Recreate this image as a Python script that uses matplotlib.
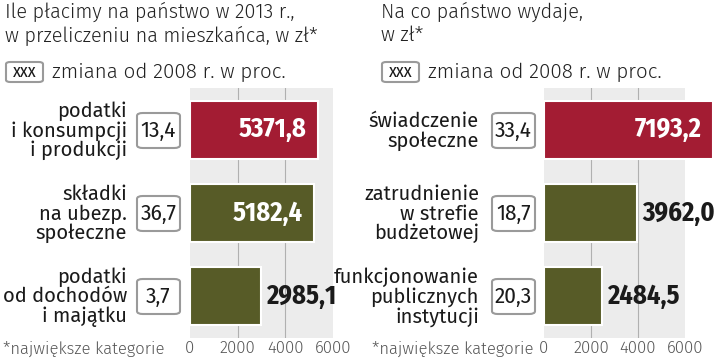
import matplotlib
matplotlib.use('Agg')
import matplotlib.pyplot as plt
from matplotlib.patches import FancyBboxPatch

# data
left_title = 'Ile płacimy na państwo w 2013 r.,\nw przeliczeniu na mieszkańca, w zł*'
left_cats = ['podatki\ni konsumpcji\ni produkcji', 'składki\nna ubezp.\nspołeczne', 'podatki\nod dochodów\ni majątku']
left_vals = [5371.8, 5182.4, 2985.1]
left_change = ['13,4', '36,7', '3,7']

right_title = 'Na co państwo wydaje,\nw zł*'
right_cats = ['świadczenie\nspołeczne', 'zatrudnienie\nw strefie\nbudżetowej', 'funkcjonowanie\npublicznych\ninstytucji']
right_vals = [7193.2, 3962.0, 2484.5]
right_change = ['33,4', '18,7', '20,3']

ticks = [0, 2000, 4000, 6000]
tick_labels = ['0', '2000', '4000', '6000']

RED = '#a31c33'
OLIVE = '#575b27'
BG = '#ececec'
COND = ['Fira Sans Condensed', 'DejaVu Sans']
REG = ['Fira Sans', 'DejaVu Sans']

W, H = 720, 360
fig = plt.figure(figsize=(7.2, 3.6), dpi=100)
fig.patch.set_facecolor('white')


def fx(x):
    return x / W


def fy(y):
    return 1 - y / H


def panel(x0, x1, label_right, box_x, title, cats, vals, changes, title_x):
    ax = fig.add_axes([fx(x0), fy(338), fx(x1 - x0), (338 - 88) / H])
    ax.set_facecolor(BG)
    for s in ax.spines.values():
        s.set_visible(False)
    ax.set_xlim(0, 6000)
    ax.set_ylim(2.5, -0.5)
    for g in [2000, 4000]:
        ax.axvline(g, color='#b0b0b0', lw=0.8, zorder=1)
    ax.set_xticks(ticks)
    ax.set_xticklabels(tick_labels, family=REG, fontweight=300, fontsize=12, color='#555555')
    ax.tick_params(axis='x', length=0, pad=2)
    ax.set_yticks([])

    ypos = range(len(vals))
    colors = [RED, OLIVE, OLIVE]
    # shadow then bar
    ax.barh(ypos, vals, height=0.72, left=0, color='#bdbdbd', zorder=2, clip_on=False)
    ax.barh(ypos, vals, height=0.70, color=colors, edgecolor='white', lw=1.5,
            zorder=3, clip_on=False)

    x_per_px = 6000 / (x1 - x0)
    for i, v in enumerate(vals):
        txt = f'{v:.1f}'.replace('.', ',')
        if v > 4500:
            ax.text(v - 11 * x_per_px, i, txt, ha='right', va='center', color='white',
                    family=COND, fontweight='bold', fontsize=19, zorder=4, clip_on=False)
        else:
            ax.text(v + 5 * x_per_px, i, txt, ha='left', va='center', color='#1a1a1a',
                    family=COND, fontweight='bold', fontsize=19, zorder=4, clip_on=False)

    centers = [130, 213, 296]
    for cy, cat, ch in zip(centers, cats, changes):
        fig.text(fx(label_right), fy(cy + 1), cat, ha='right', va='center', family=REG,
                 fontsize=14.5, color='#1a1a1a', linespacing=1.0)
        box = FancyBboxPatch((fx(box_x), fy(cy + 18)), fx(43), 35 / H,
                             boxstyle='round,pad=0,rounding_size=0.008',
                             transform=fig.transFigure, fc='white', ec='#9a9a9a', lw=1.5)
        fig.patches.append(box)
        fig.text(fx(box_x + 21.5), fy(cy + 1), ch, ha='center', va='center', family=COND,
                 fontsize=16.5, color='#1a1a1a')

    fig.text(fx(title_x), fy(2), title, ha='left', va='top', family=REG, fontweight=300,
             fontsize=14.3, color='#222222', linespacing=1.2)
    # legend box
    lb = FancyBboxPatch((fx(title_x + 1), fy(82)), fx(37), 20 / H,
                        boxstyle='round,pad=0,rounding_size=0.006',
                        transform=fig.transFigure, fc='white', ec='#9a9a9a', lw=1.5)
    fig.patches.append(lb)
    fig.text(fx(title_x + 19.5), fy(72), 'xxx', ha='center', va='center', family=COND,
             fontsize=13, color='#1a1a1a')
    fig.text(fx(title_x + 47), fy(72), 'zmiana od 2008 r. w proc.', ha='left', va='center',
             family=REG, fontweight=300, fontsize=14.8, color='#222222')
    return ax


panel(190, 333, 127, 137, left_title, left_cats, left_vals, left_change, 5)
panel(544, 685, 479, 492, right_title, right_cats, right_vals, right_change, 381)

fig.text(fx(3), fy(349), '*największe kategorie', ha='left', va='center', family=REG,
         fontweight=300, fontsize=12, color='#555555')
fig.text(fx(372), fy(349), '*największe kategorie', ha='left', va='center', family=REG,
         fontweight=300, fontsize=12, color='#555555')

fig.savefig('out.png', dpi=100)
